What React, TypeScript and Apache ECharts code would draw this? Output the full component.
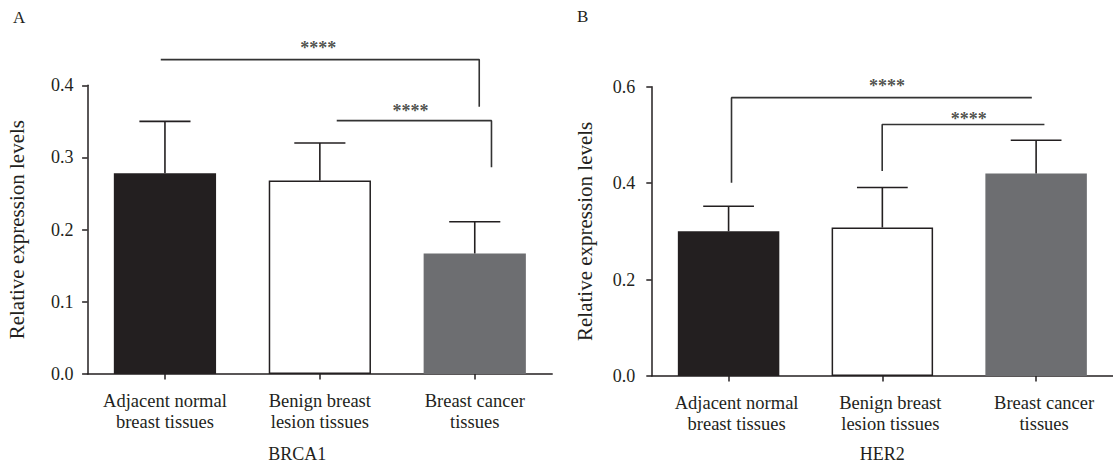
import React, { useEffect, useRef } from "react";
import * as echarts from "echarts";

const categories = [
  "Adjacent normal\nbreast tissues",
  "Benign breast\nlesion tissues",
  "Breast cancer\ntissues",
];
const barColors = ["#231f20", "#ffffff", "#6d6e71"];

const brca1Mean = [0.278, 0.268, 0.167];
const brca1Upper = [0.35, 0.32, 0.211];
const her2Mean = [0.3, 0.308, 0.42];
const her2Upper = [0.352, 0.391, 0.489];

// significance brackets: [x (category units), y]
const brca1Bracket1 = [[-0.027, 0.4356], [2.029, 0.4356], [2.029, 0.3704]];
const brca1Bracket2 = [[1.109, 0.351], [2.108, 0.351], [2.108, 0.2865]];
const brca1Stars = [[0.99, 0.452], [1.586, 0.364]];
const her2Bracket1 = [[0.019, 0.401], [0.019, 0.5773], [1.972, 0.5773]];
const her2Bracket2 = [[0.999, 0.425], [0.999, 0.5217], [2.054, 0.5217]];
const her2Stars = [[1.031, 0.6006], [1.562, 0.532]];

const INK = "#231f20";
const FONT = "'Liberation Serif', 'Times New Roman', serif";

function errorSeries(xAxisIndex: number, yAxisIndex: number, mean: number[], upper: number[]) {
  return {
    type: "custom",
    xAxisIndex,
    yAxisIndex,
    z: 5,
    silent: true,
    clip: false,
    data: mean.map((m, i) => [i, m, upper[i]]),
    encode: { x: 0, y: [1, 2] },
    renderItem: (params: any, api: any) => {
      const i = api.value(0);
      const m = api.value(1);
      const u = api.value(2);
      const p0 = api.coord([i, m]);
      const p1 = api.coord([i, u]);
      const band = api.size([1, 0])[0];
      const half = (band * 0.33) / 2;
      const style = { stroke: INK, lineWidth: 1.6 };
      return {
        type: "group",
        children: [
          { type: "line", shape: { x1: p0[0], y1: p0[1], x2: p1[0], y2: p1[1] }, style },
          { type: "line", shape: { x1: p1[0] - half, y1: p1[1], x2: p1[0] + half, y2: p1[1] }, style },
        ],
      };
    },
  };
}

function bracketSeries(xAxisIndex: number, yAxisIndex: number, data: number[][]) {
  return {
    type: "line",
    xAxisIndex,
    yAxisIndex,
    data,
    symbol: "none",
    clip: false,
    silent: true,
    z: 6,
    lineStyle: { color: "#333333", width: 1.6 },
  };
}

function starSeries(xAxisIndex: number, yAxisIndex: number, data: number[][]) {
  return {
    type: "scatter",
    xAxisIndex,
    yAxisIndex,
    data,
    symbol: "circle",
    symbolSize: 1,
    clip: false,
    silent: true,
    itemStyle: { color: "rgba(0,0,0,0)" },
    label: {
      show: true,
      position: "inside",
      formatter: "****",
      fontSize: 18,
      fontWeight: "bold",
      color: INK,
      fontFamily: FONT,
    },
    z: 7,
  };
}

function barSeries(xAxisIndex: number, yAxisIndex: number, mean: number[]) {
  return {
    type: "bar",
    xAxisIndex,
    yAxisIndex,
    barWidth: "66%",
    silent: true,
    data: mean.map((v, i) => ({
      value: v,
      itemStyle: {
        color: barColors[i],
        borderColor: i === 1 ? INK : barColors[i],
        borderWidth: i === 1 ? 1.5 : 0,
      },
    })),
  };
}

function catAxis(gridIndex: number, name: string, nameGap: number, namePad: number[], labelPad: number[]) {
  return {
    type: "category",
    gridIndex,
    data: categories,
    name,
    nameLocation: "middle",
    nameGap,
    nameTextStyle: { fontSize: 18, color: INK, fontFamily: FONT, padding: namePad },
    axisLine: { show: true, onZero: false, lineStyle: { color: INK, width: 1.5 } },
    axisTick: { show: true, alignWithLabel: true, length: 5.5, lineStyle: { color: INK, width: 1.5 } },
    axisLabel: {
      fontSize: 18.5,
      lineHeight: 21.5,
      color: INK,
      fontFamily: FONT,
      margin: 16,
      interval: 0,
      padding: labelPad,
    },
    splitLine: { show: false },
  };
}

function hiddenValueX(gridIndex: number) {
  return { type: "value", gridIndex, min: -0.5, max: 2.5, show: false, axisLine: { onZero: false } };
}

function valAxis(gridIndex: number, max: number, interval: number, margin: number, nameGap: number) {
  return {
    type: "value",
    gridIndex,
    min: 0,
    max,
    interval,
    name: "Relative expression levels",
    nameLocation: "middle",
    nameRotate: 90,
    nameGap,
    nameTextStyle: { fontSize: 21, color: INK, fontFamily: FONT },
    axisLine: { show: true, onZero: false, lineStyle: { color: INK, width: 1.5 } },
    axisTick: { show: true, length: 5.4, lineStyle: { color: INK, width: 1.5 } },
    axisLabel: {
      fontSize: 18,
      color: INK,
      fontFamily: FONT,
      margin,
      formatter: (v: number) => v.toFixed(1),
    },
    splitLine: { show: false },
  };
}

export default function App() {
  const ref = useRef<HTMLDivElement>(null);
  useEffect(() => {
    if (!ref.current) return;
    const chart = echarts.init(ref.current, undefined, { renderer: "svg" });
    chart.setOption({
      animation: false,
      backgroundColor: "#ffffff",
      textStyle: { fontFamily: FONT },
      grid: [
        { left: 87.5, top: 85.3, width: 464.7, height: 290.7 },
        { left: 651.7, top: 86.7, width: 464.4, height: 291.3 },
      ],
      xAxis: [
        catAxis(0, "BRCA1", 71, [0, 45, 0, 0], [0, 0, 0, 0]),
        hiddenValueX(0),
        catAxis(1, "HER2", 69, [0, 0, 0, 0], [0, 0, 0, 16]),
        hiddenValueX(1),
      ],
      yAxis: [valAxis(0, 0.4, 0.1, 14, 60), valAxis(1, 0.6, 0.2, 16.5, 56)],
      graphic: [
        { type: "text", x: 13, y: 17, style: { text: "A", fontSize: 17, fill: INK, fontFamily: FONT, verticalAlign: "middle" } },
        { type: "text", x: 577, y: 16, style: { text: "B", fontSize: 17, fill: INK, fontFamily: FONT, verticalAlign: "middle" } },
      ],
      series: [
        barSeries(0, 0, brca1Mean),
        errorSeries(0, 0, brca1Mean, brca1Upper),
        bracketSeries(1, 0, brca1Bracket1),
        bracketSeries(1, 0, brca1Bracket2),
        starSeries(1, 0, brca1Stars),
        barSeries(2, 1, her2Mean),
        errorSeries(2, 1, her2Mean, her2Upper),
        bracketSeries(3, 1, her2Bracket1),
        bracketSeries(3, 1, her2Bracket2),
        starSeries(3, 1, her2Stars),
      ],
    });
    return () => chart.dispose();
  }, []);
  return (
    <div
      ref={ref}
      style={{ position: "absolute", left: 0, top: 0, width: 1113, height: 468, background: "#fff" }}
    />
  );
}
